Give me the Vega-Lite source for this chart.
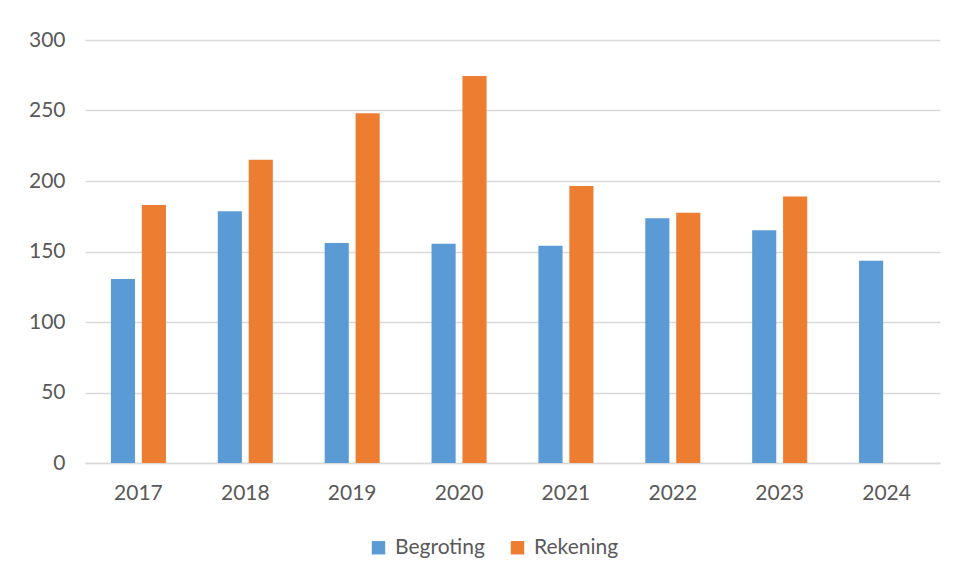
{
  "$schema": "https://vega.github.io/schema/vega-lite/v6.json",
  "width": 855,
  "height": 423,
  "autosize": {"type": "none"},
  "padding": {"left": 85, "top": 40, "right": 17, "bottom": 118},
  "background": "white",
  "config": {
    "view": {"stroke": null},
    "font": "Lato",
    "axis": {"labelFont": "Lato", "labelColor": "#595959", "labelFontSize": 21},
    "legend": {"labelFont": "Lato", "labelColor": "#595959", "labelFontSize": 21}
  },
  "data": {
    "values": [
      {"jaar": "2017", "reeks": "Begroting", "waarde": 130.5},
      {"jaar": "2017", "reeks": "Rekening", "waarde": 183},
      {"jaar": "2018", "reeks": "Begroting", "waarde": 178.5},
      {"jaar": "2018", "reeks": "Rekening", "waarde": 215},
      {"jaar": "2019", "reeks": "Begroting", "waarde": 156},
      {"jaar": "2019", "reeks": "Rekening", "waarde": 248},
      {"jaar": "2020", "reeks": "Begroting", "waarde": 155.5},
      {"jaar": "2020", "reeks": "Rekening", "waarde": 274.5},
      {"jaar": "2021", "reeks": "Begroting", "waarde": 154},
      {"jaar": "2021", "reeks": "Rekening", "waarde": 196.5},
      {"jaar": "2022", "reeks": "Begroting", "waarde": 173.5},
      {"jaar": "2022", "reeks": "Rekening", "waarde": 177.5},
      {"jaar": "2023", "reeks": "Begroting", "waarde": 165},
      {"jaar": "2023", "reeks": "Rekening", "waarde": 189},
      {"jaar": "2024", "reeks": "Begroting", "waarde": 143.5}
    ]
  },
  "mark": {"type": "bar"},
  "encoding": {
    "x": {
      "field": "jaar", "type": "nominal",
      "scale": {"paddingInner": 0.485, "paddingOuter": 0.2425},
      "axis": {"title": null, "labelAngle": 0, "ticks": false, "domain": true, "domainColor": "#d9d9d9", "domainWidth": 1.5, "labelPadding": 19, "grid": false}
    },
    "xOffset": {"field": "reeks", "type": "nominal", "scale": {"paddingInner": 0.22, "paddingOuter": 0}},
    "y": {
      "field": "waarde", "type": "quantitative",
      "scale": {"domain": [0, 300], "nice": false},
      "axis": {"title": null, "values": [0, 50, 100, 150, 200, 250, 300], "domain": false, "ticks": false, "grid": true, "gridColor": "#d9d9d9", "gridWidth": 1.5, "labelPadding": 20}
    },
    "color": {
      "field": "reeks", "type": "nominal",
      "scale": {"domain": ["Begroting", "Rekening"], "range": ["#5b9bd5", "#ed7d31"]},
      "legend": {"title": null, "orient": "none", "legendX": 283, "legendY": 497, "direction": "horizontal", "symbolType": "square", "symbolSize": 180, "symbolStrokeWidth": 0, "columnPadding": 22, "labelOffset": 6}
    }
  }
}
